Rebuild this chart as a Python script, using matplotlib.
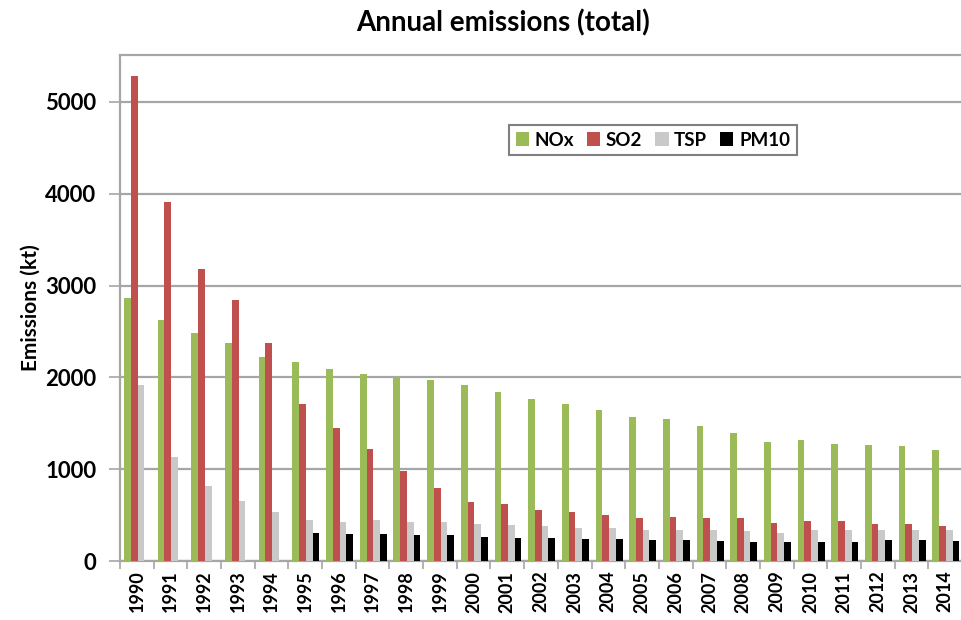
import numpy as np
import matplotlib.pyplot as plt
from matplotlib.patches import Patch

plt.rcParams['font.family'] = ['Lato', 'DejaVu Sans']
plt.rcParams['font.weight'] = 'bold'

years = [str(y) for y in range(1990, 2015)]

nox = [2868, 2625, 2483, 2374, 2221, 2167, 2094, 2032, 1998, 1970,
       1916, 1843, 1759, 1705, 1640, 1567, 1548, 1467, 1391, 1293,
       1315, 1275, 1261, 1257, 1210]
so2 = [5285, 3908, 3181, 2843, 2374, 1708, 1447, 1225, 977, 800,
       647, 625, 560, 531, 498, 469, 482, 464, 464, 413,
       435, 435, 399, 399, 377]
tsp = [1916, 1131, 818, 654, 538, 444, 430, 444, 425, 425,
       403, 393, 378, 360, 360, 338, 337, 334, 326, 308,
       334, 334, 334, 334, 333]
pm10 = [0, 0, 0, 0, 0, 302, 291, 298, 280, 280,
        262, 254, 247, 236, 236, 232, 225, 217, 210, 203,
        210, 210, 225, 228, 217]

series = [("NOx", nox, "#9BBB59"), ("SO2", so2, "#C0504D"),
          ("TSP", tsp, "#C9C9C9"), ("PM10", pm10, "#000000")]

fig = plt.figure(figsize=(9.62, 6.2), dpi=100)
ax = fig.add_axes([120/962, 1 - 561/620, 842/962, (561-55)/620])

x = np.arange(len(years))
w = 0.2
for i, (name, vals, col) in enumerate(series):
    ax.bar(x + (i - 1.5) * w + 0.02, vals, width=w, color=col, zorder=3)

ax.set_xlim(-0.5, len(years) - 0.5)
ax.set_ylim(0, 5510)
ax.set_yticks(np.arange(0, 5001, 1000))
ax.yaxis.grid(True, color="#A6A6A6", linewidth=1.6, zorder=0)

ax.set_xticks(x)
ax.set_xticklabels(years, rotation=90, fontsize=13, fontweight='bold')
ax.set_xticks(np.arange(-0.5, len(years), 1), minor=True)
ax.tick_params(axis='x', which='major', length=0, pad=7)
ax.tick_params(axis='x', which='minor', length=6, color="#A6A6A6", width=1.2)
ax.tick_params(axis='y', length=8, color="#A6A6A6", width=1.2, labelsize=16, pad=9)
for lab in ax.get_yticklabels():
    lab.set_fontweight('bold')

for s in ['left', 'top', 'bottom']:
    ax.spines[s].set_color("#A6A6A6")
    ax.spines[s].set_linewidth(1.6)
ax.spines['right'].set_visible(False)

ax.set_ylabel("Emissions (kt)", fontsize=15, fontweight='bold', labelpad=3)
fig.suptitle("Annual emissions (total)", x=503/962, y=1 - 23/620, va='center',
             fontsize=20, fontweight='bold')

handles = [Patch(facecolor=c, label=n) for n, v, c in series]
leg = ax.legend(handles=handles, ncol=4, loc='center', bbox_to_anchor=(0.633, 0.832),
                fancybox=False, frameon=True, handlelength=0.7,
                handleheight=0.7, handletextpad=0.3, columnspacing=0.7,
                borderpad=0.35, prop={'weight': 'bold', 'size': 13.5})
leg.get_frame().set_edgecolor("#606060")
leg.get_frame().set_linewidth(1.5)

fig.savefig("out.png", dpi=100)
